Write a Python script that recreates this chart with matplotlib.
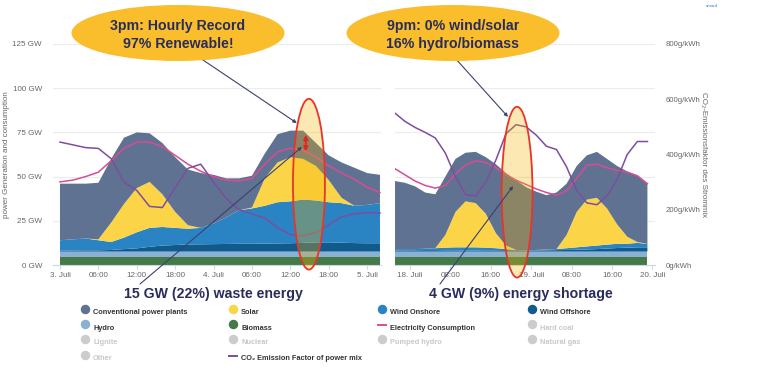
import matplotlib
matplotlib.use("Agg")
import numpy as np
import matplotlib.pyplot as plt
from matplotlib.patches import Ellipse
from matplotlib.lines import Line2D

plt.rcParams["font.family"] = ["Liberation Sans", "DejaVu Sans"]

# --- left panel: 3.-5. Juli, hours since 3. Juli 00:00 ---
hours_jul = [0, 2, 4, 6, 8, 10, 12, 14, 16, 18, 20, 22, 24,
             26, 28, 30, 32, 34, 36, 38, 40, 42, 44, 46, 48, 50]
biomass_jul = [4.8, 4.8, 4.8, 4.8, 4.8, 4.8, 4.8, 4.8, 4.8, 4.8, 4.8, 4.8, 4.8,
               4.8, 4.8, 4.8, 4.8, 4.8, 4.8, 4.8, 4.8, 4.8, 4.8, 4.8, 4.8, 4.8]
hydro_jul = [2.9, 2.9, 2.9, 2.9, 2.9, 2.9, 2.9, 2.9, 2.9, 2.9, 2.9, 2.9, 2.9,
             2.9, 2.9, 2.9, 2.9, 2.9, 2.9, 2.9, 2.9, 2.9, 2.9, 2.9, 2.9, 2.9]
offshore_jul = [0.5, 0.5, 0.6, 0.6, 0.8, 1.3, 1.7, 2.6, 3.3, 3.6, 3.9, 4.0, 4.1,
                4.2, 4.3, 4.3, 4.4, 4.5, 4.6, 4.8, 5.1, 5.1, 4.9, 4.7, 4.6, 4.6]
onshore_jul = [5.8, 6.3, 6.7, 5.7, 4.5, 6.5, 9.1, 10.7, 10.5, 9.7, 8.9, 9.3, 11.7,
               15.1, 19.0, 20.0, 21.4, 23.3, 23.7, 24.5, 23.7, 22.7, 22.4, 21.1, 21.7, 22.7]
solar_jul = [0, 0, 0, 0.5, 11, 19, 25, 26, 18.5, 9, 2, 0, 0,
             0, 0, 0.5, 15.5, 22.5, 25, 23, 19.5, 12.5, 3, 0, 0, 0]
conventional_jul = [32, 31.5, 31, 32, 36, 37.5, 31.5, 27.5, 29, 31, 31.5, 31, 27.5,
                    22, 18, 18, 14, 16, 15, 16, 13, 14, 20, 21.5, 18, 16]
consumption_jul = [47, 48, 50, 52.5, 59, 66, 69.5, 69.5, 67, 62, 57, 53, 50,
                   48, 47.5, 49, 57, 64, 66, 65, 61, 56, 52, 48.5, 44, 41]
co2_jul = [445, 435, 425, 422, 385, 300, 270, 212, 208, 280, 350, 365, 300,
           240, 200, 185, 170, 135, 110, 105, 118, 145, 175, 185, 190, 188]
ticks_jul = [0, 6, 12, 18, 24, 30, 36, 42, 48]
ticklabels_jul = ["3. Juli", "06:00", "12:00", "18:00", "4. Juli", "06:00", "12:00", "18:00", "5. Juli"]

# --- right panel: 18.-20. Juli, hours since 18. Juli 00:00 ---
hours_jul18 = [-3, -1, 1, 3, 5, 7, 9, 11, 13, 15, 17, 19, 21,
               23, 25, 27, 29, 31, 33, 35, 37, 39, 41, 43, 45, 47]
biomass_jul18 = [4.8, 4.8, 4.8, 4.8, 4.8, 4.8, 4.8, 4.8, 4.8, 4.8, 4.8, 4.8, 4.8,
                 4.8, 4.8, 4.8, 4.8, 4.8, 4.8, 4.8, 4.8, 4.8, 4.8, 4.8, 4.8, 4.8]
hydro_jul18 = [2.9, 2.9, 2.9, 2.9, 2.9, 2.9, 2.9, 2.9, 2.9, 2.9, 2.9, 2.9, 2.9,
               2.9, 2.9, 2.9, 2.9, 2.9, 2.9, 2.9, 2.9, 2.9, 2.9, 2.9, 2.9, 2.9]
offshore_jul18 = [0.5, 0.6, 0.6, 0.7, 0.7, 0.6, 0.6, 0.5, 0.5, 0.6, 0.6, 0.7, 0.6,
                  0.5, 0.5, 0.6, 0.7, 0.8, 0.9, 1.1, 1.3, 1.6, 1.9, 2.1, 2.3, 2.3]
onshore_jul18 = [0.8, 0.7, 0.7, 0.8, 1.1, 1.5, 1.7, 1.8, 1.8, 1.5, 1.2, 0.6, 0.2,
                 0.1, 0.3, 0.5, 0.6, 1.0, 1.4, 1.7, 2.0, 2.2, 2.4, 2.2, 2.5, 2.0]
solar_jul18 = [0, 0, 0, 0, 0, 7.2, 20, 26, 25, 19.2, 8.5, 2, 0,
               0, 0, 0, 0, 7.5, 20, 26.5, 27, 20.5, 11, 4, 0.5, 0]
conventional_jul18 = [38.5, 37.5, 35.5, 31.8, 30.5, 33, 30, 27.5, 29, 32, 39, 41, 39.5,
                      35.7, 33, 30.7, 32, 29, 26, 25, 26, 28, 33, 37, 37.5, 34]
consumption_jul18 = [54.5, 51, 47.5, 45, 43.5, 45, 51.5, 56.5, 59, 58, 55, 51, 48,
                     45.5, 43, 41, 39.5, 42, 49, 56.5, 57, 55, 53.5, 52.5, 50.5, 46]
co2_jul18 = [550, 520, 498, 480, 460, 405, 320, 255, 250, 300, 380, 475, 508,
             500, 470, 430, 418, 355, 270, 225, 218, 250, 310, 400, 447, 447]
ticks_jul18 = [0, 8, 16, 24, 32, 40, 48]
ticklabels_jul18 = ["18. Juli", "08:00", "16:00", "19. Juli", "08:00", "16:00", "20. Juli"]

gw_ticks = [0, 25, 50, 75, 100, 125]
co2_ticks = [0, 200, 400, 600, 800]

layer_colors = ["#437a48", "#8ab0d4", "#115a8c", "#2a84c4", "#fcd447", "#5f7291"]
PINK = "#d84c95"
PURPLE = "#7e4d9e"
NAVY = "#2a2d5c"
TICK_GREY = "#666666"

W, H = 770, 369
fig = plt.figure(figsize=(W / 100, H / 100), dpi=100)


def fx(px):
    return px / W


def fy(py):
    return 1 - py / H


def panel(left_px, right_px, xlim, hours, layers, consumption, co2, ticks, ticklabels):
    ax = fig.add_axes([fx(left_px), fy(265), (right_px - left_px) / W, 221 / H])
    ax.stackplot(hours, *layers, colors=layer_colors, linewidth=0)
    ax.plot(hours, consumption, color=PINK, lw=1.1)
    ax.set_xlim(*xlim)
    ax.set_ylim(0, 125)
    ax.set_yticks(gw_ticks)
    ax.grid(axis="y", color="#ececec", lw=0.8)
    ax.set_axisbelow(True)
    for s in ["top", "right", "left"]:
        ax.spines[s].set_visible(False)
    ax.spines["bottom"].set_color("#ccd6eb")
    ax.spines["bottom"].set_linewidth(0.8)
    ax.set_xticks(ticks)
    ax.set_xticklabels(ticklabels)
    ax.tick_params(axis="x", length=3, color="#ccd6eb", labelsize=5.8, labelcolor=TICK_GREY, pad=2)
    ax.tick_params(axis="y", length=0, labelsize=5.8, labelcolor=TICK_GREY, pad=8)

    tw = ax.twinx()
    tw.plot(hours, co2, color=PURPLE, lw=1.1)
    tw.set_ylim(0, 800)
    tw.set_xlim(*xlim)
    for s in tw.spines.values():
        s.set_visible(False)
    return ax, tw


ax_l, tw_l = panel(53, 381, (-1.09, 50.16), hours_jul,
                   [biomass_jul, hydro_jul, offshore_jul, onshore_jul, solar_jul, conventional_jul],
                   consumption_jul, co2_jul, ticks_jul, ticklabels_jul)
ax_r, tw_r = panel(395, 655, (-2.97, 48.5), hours_jul18,
                   [biomass_jul18, hydro_jul18, offshore_jul18, onshore_jul18, solar_jul18, conventional_jul18],
                   consumption_jul18, co2_jul18, ticks_jul18, ticklabels_jul18)

ax_l.set_yticklabels([f"{v} GW" for v in gw_ticks])
ax_l.set_ylabel("power Generation and consumption", fontsize=5.8, color=TICK_GREY)
ax_l.yaxis.set_label_coords(-0.131, 0.5)
tw_l.set_yticks([])
ax_r.set_yticklabels([])

tw_r.set_yticks(co2_ticks)
tw_r.set_yticklabels([f"{v}g/kWh" for v in co2_ticks])
tw_r.tick_params(axis="y", length=0, labelsize=5.6, labelcolor=TICK_GREY, pad=8)
tw_r.set_ylabel("CO₂-Emissionsfaktor des Strommix", fontsize=5.8, color=TICK_GREY, rotation=270)
tw_r.yaxis.set_label_coords(1.2, 0.5)

# highlighted hours: 4. Juli 15:00 and 18. Juli 21:00
for tw, ax, h_mark, y_mid, w_h in [(tw_l, ax_l, 38.9, 45.7, 5.0), (tw_r, ax_r, 21.2, 41.2, 6.1)]:
    tw.add_artist(Ellipse((h_mark, y_mid), w_h, 96.6, transform=ax.transData,
                          facecolor=(0.96, 0.70, 0.0, 0.3), edgecolor="none",
                          clip_on=False, zorder=5))
    tw.add_artist(Ellipse((h_mark, y_mid), w_h, 96.6, transform=ax.transData,
                          facecolor="none", edgecolor="#e8352a", lw=1.3,
                          clip_on=False, zorder=6))

# waste energy double arrow between consumption and generation at 3pm
total_jul = np.sum([biomass_jul, hydro_jul, offshore_jul, onshore_jul, solar_jul, conventional_jul], axis=0)
h_w = 38.4
tw_l.annotate("", xy=(h_w, np.interp(h_w, hours_jul, total_jul) - 1),
              xytext=(h_w, np.interp(h_w, hours_jul, consumption_jul)),
              xycoords=ax_l.transData, textcoords=ax_l.transData,
              arrowprops=dict(arrowstyle="<|-|>", color="#e8231d", lw=1.4, mutation_scale=6,
                              shrinkA=0, shrinkB=0),
              zorder=8)

arrow_props = dict(arrowstyle="-|>", color="#3c4070", lw=0.8, mutation_scale=5, shrinkA=0, shrinkB=0)
for tw, ax, target, start in [
    (tw_l, ax_l, (37.0, 80.3), (200, 58)),
    (tw_l, ax_l, (37.8, 66.8), (140, 284)),
    (tw_r, ax_r, (19.4, 83.8), (455, 58)),
    (tw_r, ax_r, (20.4, 44.6), (440, 284)),
]:
    tw.annotate("", xy=target, xycoords=ax.transData,
                xytext=(fx(start[0]), fy(start[1])), textcoords="figure fraction",
                arrowprops=arrow_props, annotation_clip=False, zorder=9)

# callout bubbles
for cx, text in [(178, "3pm: Hourly Record\n97% Renewable!"),
                 (453, "9pm: 0% wind/solar\n16% hydro/biomass")]:
    fig.add_artist(Ellipse((fx(cx), fy(33)), 213 / W, 56 / H, transform=fig.transFigure,
                           facecolor="#fabe2d", edgecolor="none", zorder=10))
    fig.text(fx(cx), fy(35), text, ha="center", va="center", fontsize=10.2,
             fontweight="bold", color=NAVY, linespacing=1.4, zorder=11)

fig.text(fx(213), fy(294), "15 GW (22%) waste energy", ha="center", va="center",
         fontsize=10.2, fontweight="bold", color=NAVY)
fig.text(fx(521), fy(294), "4 GW (9%) energy shortage", ha="center", va="center",
         fontsize=10.2, fontweight="bold", color=NAVY)

fig.text(fx(712), fy(6), "smard", ha="center", va="center", fontsize=3.2, color="#3a7bd5")

# legend
legend_labels = ["Conventional power plants", "Solar", "Wind Onshore", "Wind Offshore",
                 "Hydro", "Biomass", "Electricity Consumption", "Hard coal",
                 "Lignite", "Nuclear", "Pumped hydro", "Natural gas",
                 "Other", "CO₂ Emission Factor of power mix"]
legend_colors = ["#5f7291", "#fcd447", "#2a84c4", "#115a8c",
                 "#8ab0d4", "#437a48", PINK, "#cccccc",
                 "#cccccc", "#cccccc", "#cccccc", "#cccccc",
                 "#cccccc", PURPLE]
legend_is_line = [False, False, False, False, False, False, True, False,
                  False, False, False, False, False, True]
legend_active = [True, True, True, True, True, True, True, False,
                 False, False, False, False, False, True]

col_x = [85, 233, 382, 532]
row_y = [309, 324, 339, 355]
for i, label in enumerate(legend_labels):
    mx, my = col_x[i % 4], row_y[i // 4]
    if legend_is_line[i]:
        fig.add_artist(Line2D([fx(mx - 4), fx(mx + 4)], [fy(my + 1), fy(my + 1)],
                              color=legend_colors[i], lw=1.4, transform=fig.transFigure))
    else:
        fig.add_artist(Line2D([fx(mx)], [fy(my)], marker="o", ms=5.8, ls="none",
                              color=legend_colors[i], transform=fig.transFigure))
    fig.text(fx(mx + 8), fy(my + 4), label, ha="left", va="center", fontsize=5.3,
             fontweight="bold", color="#333333" if legend_active[i] else "#c8c8c8")

fig.savefig("out.png", dpi=100)
